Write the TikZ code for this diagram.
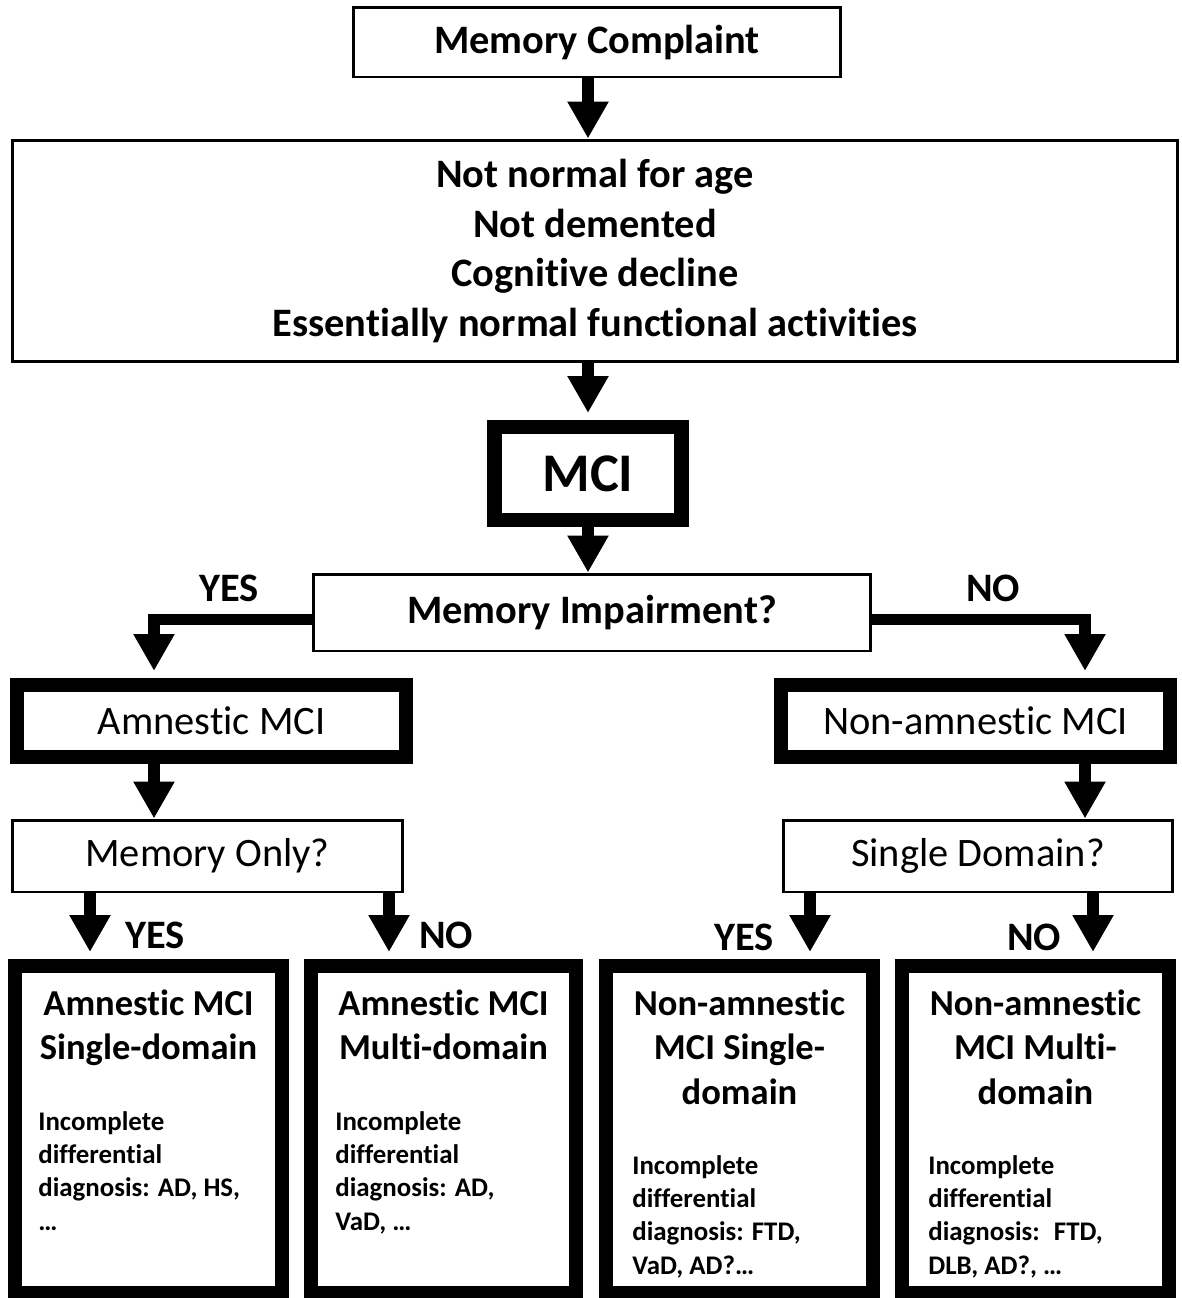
\documentclass[tikz,border=0pt]{standalone}
\usepackage{fontspec}
\setmainfont[Ligatures=NoCommon]{Carlito}
\usetikzlibrary{arrows.meta, positioning}
\tikzset{
    plainbox/.style={rectangle, draw=black, line width=1.7pt, inner sep=0pt, align=center, font=\fontsize{23}{28.3}\selectfont\bfseries},
    heavybox/.style={rectangle, draw=black, line width=8pt, inner sep=0pt, align=center},
    normalbox/.style={rectangle, draw=black, line width=1.7pt, inner sep=0pt, align=center, font=\fontsize{23}{27}\selectfont},
    title/.style={align=center, inner sep=0pt, anchor=north, font=\fontsize{20.8}{25.6}\selectfont\bfseries},
    detail/.style={align=left, inner sep=0pt, anchor=north west, font=\fontsize{15.3}{19}\selectfont\bfseries},
    answer/.style={inner sep=0pt, font=\fontsize{23}{27}\selectfont\bfseries},
    arrow/.style={line width=6.5pt, -{Triangle[length=21pt, width=22pt]}}
}
\begin{document}
\begin{tikzpicture}[x=0.02cm, y=-0.02cm]
    \useasboundingbox (0,0) rectangle (1181,1298);
    % top chain
    \node (complaint) [plainbox, minimum width=9.76cm, minimum height=1.4cm] at (597,42) {Memory Complaint};
    \node (criteria) [plainbox, minimum width=23.3cm, minimum height=4.44cm] at (595,251) {Not normal for age\\Not demented\\Cognitive decline\\Essentially normal functional activities};
    \node (mci) [heavybox, minimum width=3.74cm, minimum height=1.86cm, font=\fontsize{31}{36}\selectfont\bfseries] at (588,473.5) {MCI};
    \node (impair) [plainbox, minimum width=11.16cm, minimum height=1.54cm] at (592,612.5) {Memory Impairment?};

    % second level
    \node (amn) [heavybox, minimum width=7.78cm, minimum height=1.44cm, font=\fontsize{23}{27}\selectfont] at (211.5,721) {Amnestic MCI};
    \node (nonamn) [heavybox, minimum width=7.78cm, minimum height=1.44cm, font=\fontsize{23}{27}\selectfont] at (975.5,721) {Non-amnestic MCI};
    \node (memonly) [normalbox, minimum width=7.8cm, minimum height=1.44cm] at (207.5,856) {Memory Only?};
    \node (single) [normalbox, minimum width=7.8cm, minimum height=1.44cm] at (978,856) {Single Domain?};

    % outcome boxes
    \node (amnsd) [heavybox, minimum width=5.34cm, minimum height=6.54cm] at (148.5,1129.5) {};
    \node (amnmd) [heavybox, minimum width=5.3cm, minimum height=6.54cm] at (443.5,1129.5) {};
    \node (nonsd) [heavybox, minimum width=5.34cm, minimum height=6.54cm] at (739.5,1129.5) {};
    \node (nonmd) [heavybox, minimum width=5.34cm, minimum height=6.54cm] at (1035.5,1129.5) {};

    \node (amnsdtitle) [title] at (148.5,989) {Amnestic MCI\\Single-domain};
    \node (amnmdtitle) [title] at (443.5,989) {Amnestic MCI\\Multi-domain};
    \node (nonsdtitle) [title] at (739.5,989) {Non-amnestic\\MCI Single-\\domain};
    \node (nonmdtitle) [title] at (1035.5,989) {Non-amnestic\\MCI Multi-\\domain};

    \node (amnsddiag) [detail] at (38,1111) {Incomplete\\differential\\diagnosis: AD, HS,\\…};
    \node (amnmddiag) [detail] at (335,1111) {Incomplete\\differential\\diagnosis: AD,\\VaD, …};
    \node (nonsddiag) [detail] at (632,1155) {Incomplete\\differential\\diagnosis: FTD,\\VaD, AD?…};
    \node (nonmddiag) [detail] at (928,1155) {Incomplete\\differential\\diagnosis:~ FTD,\\DLB, AD?, …};

    % answers
    \node (yestop) [answer] at (229,588) {YES};
    \node (notop) [answer] at (993,588) {NO};
    \node (yesamn) [answer] at (155,935) {YES};
    \node (noamn) [answer] at (446,935) {NO};
    \node (yesnon) [answer] at (744,937) {YES};
    \node (nonon) [answer] at (1034,937) {NO};

    % drop lines
    \coordinate (leftdrop) at (154,0);
    \coordinate (rightdrop) at (1085,0);
    \coordinate (drop1) at (90,0);
    \coordinate (drop2) at (389,0);
    \coordinate (drop3) at (810,0);
    \coordinate (drop4) at (1093,0);

    \draw [arrow] (complaint.south -| mci.north) -- (criteria.north -| mci.north);
    \draw [arrow, shorten >=4pt] (criteria.south -| mci.north) -- (mci.north);
    \draw [arrow] (mci.south) -- (impair.north -| mci.south);
    \draw [arrow, shorten >=4pt] ([yshift=-4pt]impair.west) -| (amn.north -| leftdrop);
    \draw [arrow, shorten >=4pt] ([yshift=-4pt]impair.east) -| (nonamn.north -| rightdrop);
    \draw [arrow] (amn.south -| leftdrop) -- (memonly.north -| leftdrop);
    \draw [arrow] (nonamn.south -| rightdrop) -- (single.north -| rightdrop);
    \draw [arrow, shorten >=4pt] (memonly.south -| drop1) -- (amnsd.north -| drop1);
    \draw [arrow, shorten >=4pt] (memonly.south -| drop2) -- (amnmd.north -| drop2);
    \draw [arrow, shorten >=4pt] (single.south -| drop3) -- (nonsd.north -| drop3);
    \draw [arrow, shorten >=4pt] (single.south -| drop4) -- (nonmd.north -| drop4);
\end{tikzpicture}
\end{document}
